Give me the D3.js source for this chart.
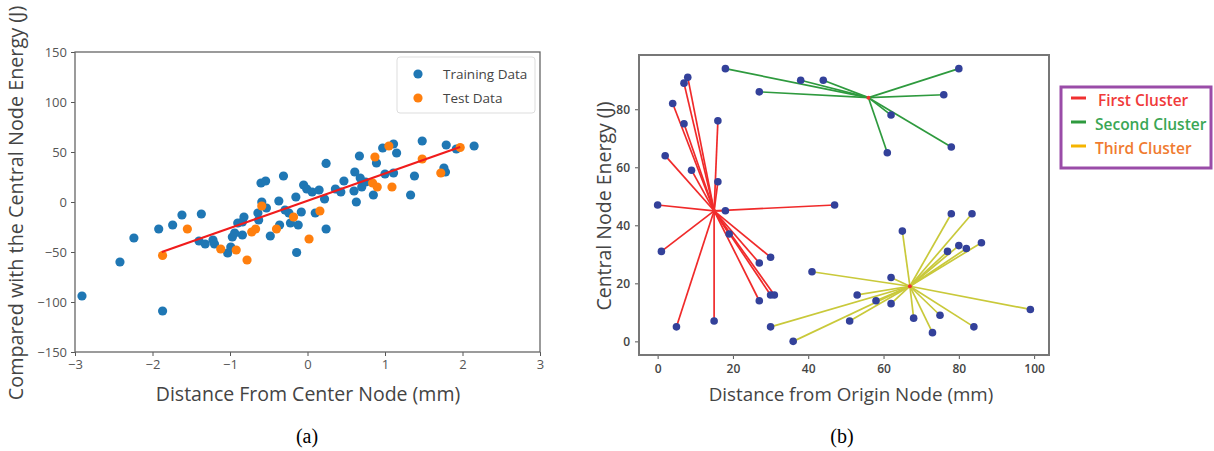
<!DOCTYPE html>
<html><head><meta charset="utf-8">
<script src="https://cdn.jsdelivr.net/npm/d3@7"></script>
<style>body{margin:0;background:#fff}svg{display:block}</style>
</head><body>
<svg id="c" width="1214" height="451"></svg>
<script>
// ---------- (a) data ----------
const trainX = [-2.91,-2.42,-2.24,-1.92,-1.87,-1.74,-1.62,-1.37,-1.40,-1.32,-1.22,-1.20,-1.03,-0.99,-0.97,-0.94,-0.90,-0.84,-0.82,-0.84,-0.64,-0.63,-0.60,-0.54,-0.59,-0.53,-0.48,-0.37,-0.31,-0.29,-0.24,-0.36,-0.22,-0.15,-0.12,-0.14,-0.08,-0.05,-0.01,0.06,0.10,0.15,0.22,0.24,0.24,0.36,0.43,0.47,0.60,0.61,0.63,0.67,0.68,0.70,0.75,0.85,0.89,0.97,1.00,1.11,1.11,1.15,1.33,1.38,1.48,1.76,1.78,1.79,1.92,2.15];
const trainY = [-94,-60,-36,-27,-109,-23,-13,-12,-39,-42,-38,-42,-51,-45,-35,-31,-21,-20,-15,-33,-11,-18,19,21,0,-6,-34,1,26,-8,-11,-23,-21,5,-23,-50.5,-10,17,13,10,-11,12,3,38.6,-27,13,10,21,11,30,0,46,24,15,20,7,39,54,28,58,29,49,7,26,61,34,30,57,53,56];
const testX = [-1.87,-1.55,-1.12,-0.92,-0.78,-0.72,-0.67,-0.59,-0.40,-0.18,0.02,0.16,0.84,0.87,0.90,1.05,1.09,1.48,1.72,1.97];
const testY = [-53.5,-27,-47,-48,-58,-30,-27,-4,-27,-15,-37,-9,19,45,15,56,15,43,29,54.5];
const fitX = [-1.88, 1.97];
const fitY = [-50, 55];
const aXTicks = [-3,-2,-1,0,1,2,3];
const aYTicks = [-150,-100,-50,0,50,100,150];
const aLegend = ["Training Data","Test Data"];

// ---------- (b) data ----------
const centroidsX = [15, 56, 67];
const centroidsY = [45, 84, 19];
const c1X = [0,2,4,7,8,7,9,16,16,18,47,1,5,15,19,27,30,27,30,31];
const c1Y = [47,64,82,89,91,75,59,76,55,45,47,31,5,7,37,27,29,14,16,16];
const c2X = [18,27,38,44,80,76,62,61,78];
const c2Y = [94,86,90,90,94,85,78,65,67];
const c3X = [78,83.5,65,80,82,77,86,62,53,58,62,51,68,75,73,84,99,41,30,36];
const c3Y = [44,44,38,33,32,31,34,22,16,14,13,7,8,9,3,5,11,24,5,0];
const bXTicks = [0,20,40,60,80,100];
const bYTicks = [0,20,40,60,80];
const bLegend = ["First Cluster","Second Cluster","Third Cluster"];

const svg = d3.select("#c");
const sans = "'Open Sans', 'Noto Sans', sans-serif";

// ================= (a) =================
const ax = d3.scaleLinear().domain([-3,3]).range([75,540]);
const ay = d3.scaleLinear().domain([-150,150]).range([352,52]);
const ga = svg.append("g");

ga.append("g").attr("transform","translate(0,352)")
  .call(d3.axisBottom(ax).tickValues(aXTicks).tickSize(4).tickPadding(4).tickFormat(d3.format("d")))
  .call(g=>{g.select(".domain").remove();g.selectAll("line").attr("stroke","#555");
    g.selectAll("text").attr("fill","#555").style("font-family",sans).style("font-size","13px");});
ga.append("g").attr("transform","translate(75,0)")
  .call(d3.axisLeft(ay).tickValues(aYTicks).tickSize(4).tickPadding(4).tickFormat(d3.format("d")))
  .call(g=>{g.select(".domain").remove();g.selectAll("line").attr("stroke","#555");
    g.selectAll("text").attr("fill","#555").style("font-family",sans).style("font-size","13px");});
ga.append("rect").attr("x",75).attr("y",52).attr("width",465).attr("height",300)
  .attr("fill","none").attr("stroke","#666").attr("stroke-width",1.3);

ga.append("g").selectAll("circle").data(trainX).join("circle")
  .attr("cx",(d)=>ax(d)).attr("cy",(d,i)=>ay(trainY[i])).attr("r",4.6).attr("fill","#1f77b4");
ga.append("g").selectAll("circle").data(testX).join("circle")
  .attr("cx",(d)=>ax(d)).attr("cy",(d,i)=>ay(testY[i])).attr("r",4.6).attr("fill","#ff7f0e");
ga.append("path").datum(fitX.map((d,i)=>[d,fitY[i]]))
  .attr("d",d3.line().x(d=>ax(d[0])).y(d=>ay(d[1])))
  .attr("stroke","#f01c1c").attr("stroke-width",2.2).attr("fill","none");

// legend (a)
ga.append("rect").attr("x",397).attr("y",57).attr("width",138).attr("height",56).attr("rx",3)
  .attr("fill","#fff").attr("fill-opacity",0.85).attr("stroke","#ddd");
const aCol = ["#1f77b4","#ff7f0e"];
aLegend.forEach((t,i)=>{
  ga.append("circle").attr("cx",418).attr("cy",74+i*24).attr("r",4.6).attr("fill",aCol[i]);
  ga.append("text").attr("x",443).attr("y",74+i*24).attr("dy","0.35em").text(t)
    .attr("fill","#444").style("font-family",sans).style("font-size","13.5px");
});

ga.append("text").attr("x",308).attr("y",401).attr("text-anchor","middle")
  .text("Distance From Center Node (mm)").attr("fill","#444")
  .style("font-family",sans).style("font-size","19.5px");
ga.append("text").attr("transform","translate(23,203) rotate(-90)").attr("text-anchor","middle")
  .text("Compared with the Central Node Energy (J)").attr("fill","#444")
  .style("font-family",sans).style("font-size","19.8px");
ga.append("text").attr("x",307).attr("y",443).attr("text-anchor","middle").text("(a)")
  .style("font-family","'Liberation Serif', serif").style("font-size","20px").attr("fill","#000");

// ================= (b) =================
const bx = d3.scaleLinear().domain([-4.95,103.95]).range([639,1049]);
const by = d3.scaleLinear().domain([-4.7,98.7]).range([355,55]);
const gb = svg.append("g");

gb.append("g").attr("transform","translate(0,355)")
  .call(d3.axisBottom(bx).tickValues(bXTicks).tickSize(4).tickPadding(5))
  .call(g=>{g.select(".domain").remove();g.selectAll("line").attr("stroke","#555");
    g.selectAll("text").attr("fill","#444").style("font-family",sans).style("font-size","12px").style("font-weight","600");});
gb.append("g").attr("transform","translate(639,0)")
  .call(d3.axisLeft(by).tickValues(bYTicks).tickSize(4).tickPadding(5))
  .call(g=>{g.select(".domain").remove();g.selectAll("line").attr("stroke","#555");
    g.selectAll("text").attr("fill","#444").style("font-family",sans).style("font-size","12px").style("font-weight","600");});
gb.append("rect").attr("x",639).attr("y",55).attr("width",410).attr("height",300)
  .attr("fill","none").attr("stroke","#777").attr("stroke-width",2);

const clusters = [[c1X,c1Y,"#f02a2a"],[c2X,c2Y,"#2e9a3e"],[c3X,c3Y,"#c9c93a"]];
clusters.forEach(([xs,ys,col],k)=>{
  gb.append("g").selectAll("line").data(xs).join("line")
    .attr("x1",bx(centroidsX[k])).attr("y1",by(centroidsY[k]))
    .attr("x2",d=>bx(d)).attr("y2",(d,i)=>by(ys[i]))
    .attr("stroke",col).attr("stroke-width",1.7);
});
clusters.forEach(([xs,ys],k)=>{
  gb.append("g").selectAll("circle").data(xs).join("circle")
    .attr("cx",d=>bx(d)).attr("cy",(d,i)=>by(ys[i])).attr("r",3.8).attr("fill","#33419a");
});
gb.append("g").selectAll("circle").data(centroidsX).join("circle")
  .attr("cx",d=>bx(d)).attr("cy",(d,i)=>by(centroidsY[i])).attr("r",2).attr("fill","#f03030");

gb.append("text").attr("x",851).attr("y",401).attr("text-anchor","middle")
  .text("Distance from Origin Node (mm)").attr("fill","#444")
  .style("font-family",sans).style("font-size","18.8px");
gb.append("text").attr("transform","translate(611,206) rotate(-90)").attr("text-anchor","middle")
  .text("Central Node Energy (J)").attr("fill","#444")
  .style("font-family",sans).style("font-size","19.5px");
gb.append("text").attr("x",842).attr("y",443).attr("text-anchor","middle").text("(b)")
  .style("font-family","'Liberation Serif', serif").style("font-size","20px").attr("fill","#000");

// legend (b)
gb.append("rect").attr("x",1061).attr("y",87).attr("width",150).attr("height",81)
  .attr("fill","#fff").attr("stroke","#9a4ca8").attr("stroke-width",3);
const bLine = ["#f03030","#2e9a3e","#f5b400"];
const bText = ["#f03a3a","#3aa655","#f07b30"];
bLegend.forEach((t,i)=>{
  const y = 101 + i*24;
  gb.append("line").attr("x1",1071).attr("x2",1086).attr("y1",y-3).attr("y2",y-3)
    .attr("stroke",bLine[i]).attr("stroke-width",3);
  gb.append("text").attr("x", i===0?1098:1095).attr("y",y).attr("dy","0.3em").text(t)
    .attr("fill",bText[i]).style("font-family",sans).style("font-size","15.5px").style("font-weight","600");
});
</script>
</body></html>
